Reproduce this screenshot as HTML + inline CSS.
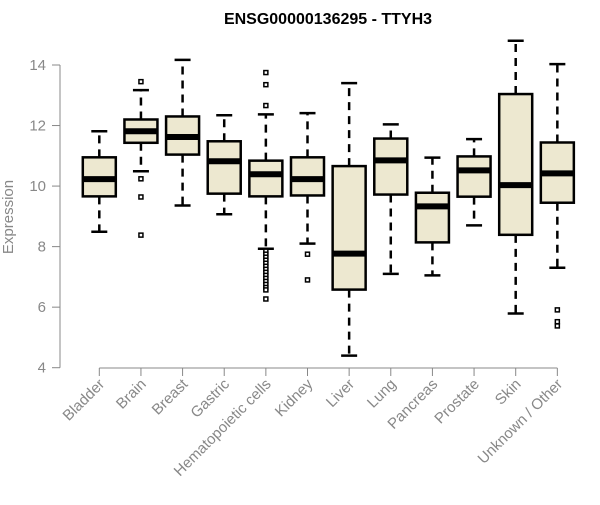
<!DOCTYPE html>
<html><head><meta charset="utf-8"><style>
body{margin:0;background:#fff;}
svg text{font-family:"Liberation Sans",Arial,sans-serif;}
</style></head><body>
<svg id="chart" width="600" height="500" xmlns="http://www.w3.org/2000/svg">
<text x="328" y="24" text-anchor="middle" font-size="16" font-weight="bold">ENSG00000136295 - TTYH3</text>
<text transform="translate(13,217) rotate(-90)" text-anchor="middle" font-size="15" fill="#888">Expression</text>
<g id="plot"></g>
</svg>
<script>
const categories=["Bladder","Brain","Breast","Gastric","Hematopoietic cells","Kidney","Liver","Lung","Pancreas","Prostate","Skin","Unknown / Other"];
const whiskerHigh=[11.81,13.17,14.17,12.34,12.37,12.41,13.4,12.04,10.94,11.55,14.8,14.03];
const q3=[10.95,12.2,12.3,11.48,10.84,10.95,10.66,11.57,9.78,10.98,13.04,11.44];
const medians=[10.23,11.81,11.62,10.82,10.39,10.23,7.77,10.85,9.33,10.52,10.03,10.42];
const q1=[9.66,11.43,11.04,9.75,9.66,9.69,6.58,9.72,8.14,9.65,8.39,9.45];
const whiskerLow=[8.49,10.49,9.36,9.07,7.93,8.1,4.4,7.1,7.05,8.7,5.79,7.3];
const outliers=[[],[13.45,10.24,9.64,8.38],[],[],[13.75,13.35,12.66,7.85,7.75,7.65,7.55,7.45,7.35,7.25,7.15,7.05,6.95,6.85,6.75,6.65,6.57,6.27],[7.75,6.9],[],[],[],[],[],[5.91,5.52,5.38]];
const yTicks=[4,6,8,10,12,14];
const NS="http://www.w3.org/2000/svg";
const g=document.getElementById('plot');
const y=v=>367.7-(v-4)*30.27;
const x=i=>99.3+i*41.64;
const hw=16.5;
function el(t,a,p){const e=document.createElementNS(NS,t);for(const k in a)e.setAttribute(k,a[k]);(p||g).appendChild(e);return e;}
const ya=el('line',{x1:60,x2:60,y1:y(4),y2:y(14),stroke:'#888','stroke-width':1});


yTicks.forEach(t=>{
 const l=el('line',{x1:52,x2:60,y1:y(t),y2:y(t),stroke:'#888'});
 
 
 const tx=el('text',{x:46,y:y(t)+5,'text-anchor':'end','font-size':15,fill:'#888'});
 tx.textContent=t;
 
 
});
const xa=el('line',{x1:x(0),x2:x(categories.length-1),y1:368,y2:368,stroke:'#888'});


categories.forEach((c,i)=>{
 const cx=x(i);
 const t=el('line',{x1:cx,x2:cx,y1:368,y2:376,stroke:'#888'});
 
 
 const lb=el('text',{transform:`translate(${cx+6},${385}) rotate(-45)`,'text-anchor':'end','font-size':15,fill:'#888'});
 lb.textContent=c;
 
 
 const bg=el('g',{});
 
 
 el('line',{x1:cx,x2:cx,y1:y(q3[i]),y2:y(whiskerHigh[i]),stroke:'#000','stroke-width':2.5,'stroke-dasharray':'8,6'},bg);
 el('line',{x1:cx,x2:cx,y1:y(q1[i]),y2:y(whiskerLow[i]),stroke:'#000','stroke-width':2.5,'stroke-dasharray':'8,6'},bg);
 el('line',{x1:cx-8,x2:cx+8,y1:y(whiskerHigh[i]),y2:y(whiskerHigh[i]),stroke:'#000','stroke-width':2.5},bg);
 el('line',{x1:cx-8,x2:cx+8,y1:y(whiskerLow[i]),y2:y(whiskerLow[i]),stroke:'#000','stroke-width':2.5},bg);
 el('rect',{x:cx-hw,y:y(q3[i]),width:hw*2,height:y(q1[i])-y(q3[i]),fill:'#ede8d0',stroke:'#000','stroke-width':2.5},bg);
 el('line',{x1:cx-hw,x2:cx+hw,y1:y(medians[i]),y2:y(medians[i]),stroke:'#000','stroke-width':6},bg);
 outliers[i].forEach(v=>{
  const o=el('rect',{x:cx-2,y:y(v)-2,width:4,height:4,fill:'#fff',stroke:'#000','stroke-width':1.5},bg);
  
  
 });
});
</script>
</body></html>
